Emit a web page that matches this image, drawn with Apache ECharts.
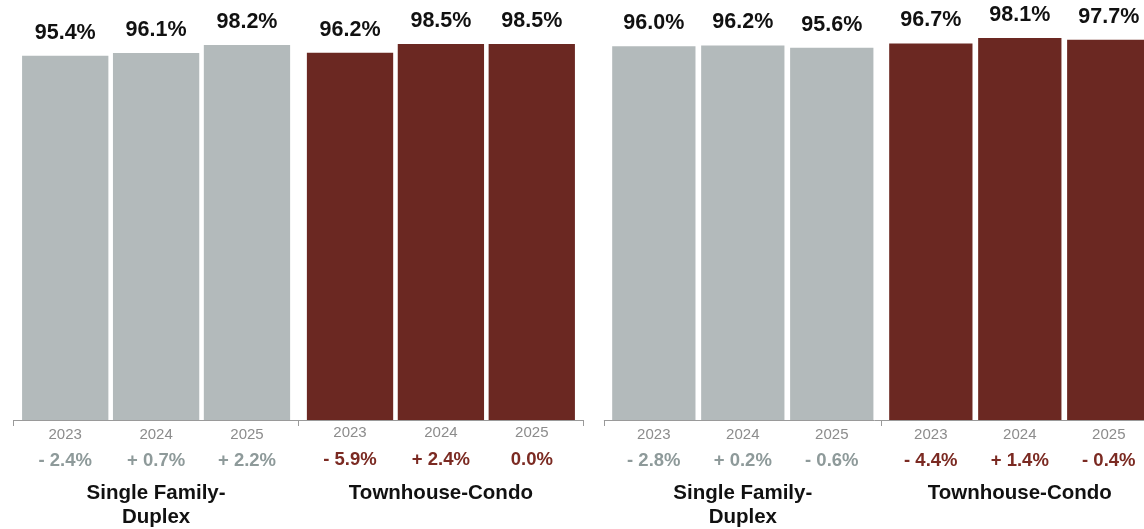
<!DOCTYPE html>
<html>
<head>
<meta charset="utf-8">
<style>
html,body{margin:0;padding:0;background:#fff;}
#chart{width:1144px;height:529px;}
</style>
<script src="https://cdn.jsdelivr.net/npm/echarts@6/dist/echarts.min.js"></script>
</head>
<body>
<div id="chart"></div>
<script>
// ---- data ----
var years = ['2023', '2024', '2025'];
var groups = ['Single Family-\nDuplex', 'Townhouse-Condo'];
var leftSF = [95.4, 96.1, 98.2];
var leftTC = [96.2, 98.5, 98.5];
var rightSF = [96.0, 96.2, 95.6];
var rightTC = [96.7, 98.1, 97.7];
var leftSFChg = ['- 2.4%', '+ 0.7%', '+ 2.2%'];
var leftTCChg = ['- 5.9%', '+ 2.4%', '0.0%'];
var rightSFChg = ['- 2.8%', '+ 0.2%', '- 0.6%'];
var rightTCChg = ['- 4.4%', '+ 1.4%', '- 0.4%'];

// ---- styles ----
var FONT = 'Liberation Sans, Arial, Helvetica, sans-serif';
var GRAY = '#b3babb';
var RED = '#6b2822';
var CHG_GRAY = '#8e9a9a';
var CHG_RED = '#7b2a22';
var YEAR_COL = '#8c8c8c';
var AXIS_COL = '#9a9a9a';

var chart = echarts.init(document.getElementById('chart'), null, {renderer: 'canvas'});

function richFor(slot) {
  return {
    y: {fontFamily: FONT, fontSize: 15, color: YEAR_COL, width: slot, align: 'center', lineHeight: 18},
    y2: {fontFamily: FONT, fontSize: 15, color: YEAR_COL, width: slot, align: 'center', lineHeight: 13},
    cg: {fontFamily: FONT, fontSize: 18.5, fontWeight: 'bold', color: CHG_GRAY, width: slot, align: 'center', lineHeight: 34},
    cr: {fontFamily: FONT, fontSize: 18.5, fontWeight: 'bold', color: CHG_RED, width: slot, align: 'center', lineHeight: 34},
    cr2: {fontFamily: FONT, fontSize: 18.5, fontWeight: 'bold', color: CHG_RED, width: slot, align: 'center', lineHeight: 41}
  };
}

function yearFormatter(chgSets, shiftSecond) {
  return function (value, index) {
    var chg = chgSets[index];
    var yStyle = (index === 1 && shiftSecond) ? 'y2' : 'y';
    var cStyle = index === 0 ? 'cg' : ((shiftSecond) ? 'cr2' : 'cr');
    return years.map(function (y) { return '{' + yStyle + '|' + y + '}'; }).join('') + '\n' +
      chg.map(function (c) { return '{' + cStyle + '|' + c + '}'; }).join('');
  };
}

var grids = [
  {left: 13.7, right: 1144 - 583.3, top: 38.2, bottom: 109, outerBoundsMode: 'none'},
  {left: 604.3, right: 1144 - 1158.3, top: 30.7, bottom: 109, outerBoundsMode: 'none'}
];

var panels = [
  {sf: leftSF, tc: leftTC, chg: [leftSFChg, leftTCChg], barWidth: 86.3, barGap: '5.3%', slot: 90.9, shift: true},
  {sf: rightSF, tc: rightTC, chg: [rightSFChg, rightTCChg], barWidth: 83.3, barGap: '6.8%', slot: 89.0, shift: false}
];

var xAxes = [], yAxes = [], series = [];
panels.forEach(function (p, pi) {
  xAxes.push({
    type: 'category', gridIndex: pi, position: 'bottom', data: groups,
    axisLine: {show: true, lineStyle: {color: AXIS_COL, width: 1}},
    axisTick: {show: true, length: 6, lineStyle: {color: AXIS_COL}},
    axisLabel: {interval: 0, margin: 6, formatter: yearFormatter(p.chg, p.shift), rich: richFor(p.slot)},
    splitLine: {show: false}
  });
  xAxes.push({
    type: 'category', gridIndex: pi, position: 'bottom', data: groups,
    axisLine: {show: false}, axisTick: {show: false}, splitLine: {show: false},
    axisLabel: {interval: 0, margin: 61, fontFamily: FONT, fontSize: 20.5, fontWeight: 'bold',
      color: '#111', lineHeight: 24.5, align: 'center'}
  });
  yAxes.push({type: 'value', gridIndex: pi, min: 0, max: 100, show: false, splitLine: {show: false}});
  years.forEach(function (yr, i) {
    series.push({
      type: 'bar', name: yr, xAxisIndex: pi * 2, yAxisIndex: pi,
      data: [p.sf[i], p.tc[i]],
      barWidth: p.barWidth, barGap: p.barGap,
      itemStyle: {color: function (d) { return d.dataIndex === 0 ? GRAY : RED; }},
      label: {
        show: true, position: 'top', distance: 12,
        fontFamily: FONT, fontSize: 21.5, fontWeight: 'bold', color: '#111',
        textBorderWidth: 0,
        formatter: function (d) { return d.value.toFixed(1) + '%'; }
      },
      emphasis: {disabled: true},
      animation: false
    });
  });
});

chart.setOption({
  animation: false,
  backgroundColor: '#ffffff',
  grid: grids,
  xAxis: xAxes,
  yAxis: yAxes,
  series: series
});
</script>
</body>
</html>
